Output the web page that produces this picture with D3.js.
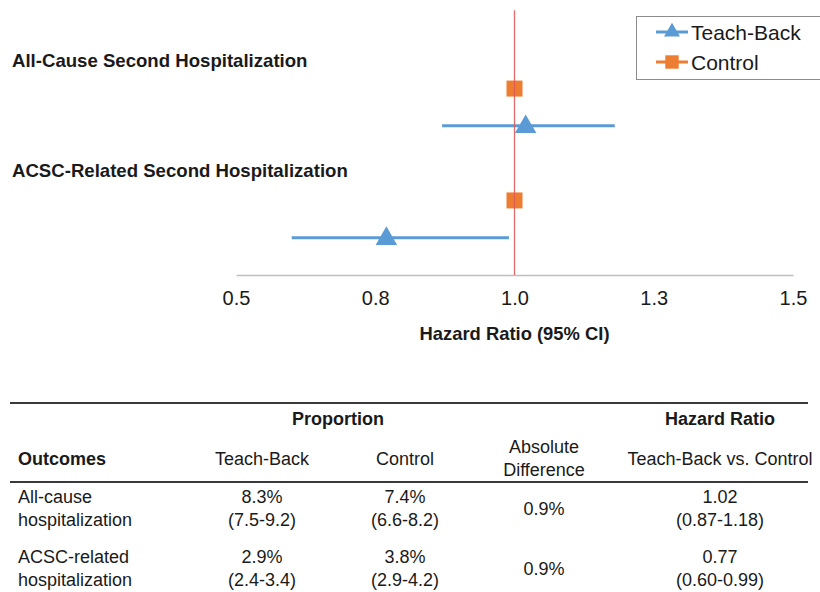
<!DOCTYPE html>
<html>
<head>
<meta charset="utf-8">
<script src="https://cdn.jsdelivr.net/npm/d3@7"></script>
<style>
  html, body { margin: 0; padding: 0; background: #fff; }
  svg { display: block; font-family: "Liberation Sans", Arial, sans-serif; }
</style>
</head>
<body>
<svg id="chart" width="820" height="592"></svg>
<script>
// Forest plot: hazard ratios with 95% CI
const outcomes = ["All-Cause Second Hospitalization", "ACSC-Related Second Hospitalization"];
const teachBackHR = [1.02, 0.77];
const teachBackLow = [0.87, 0.60];
const teachBackHigh = [1.18, 0.99];
const controlHR = [1.0, 1.0];
const xTicks = [0.5, 0.75, 1.0, 1.25, 1.5];

// Row positions (in plot rows) for each outcome
const labelRow = [5.77, 2.8];
const controlRow = [5, 2];
const teachBackRow = [4, 1];

// Summary table
const tableOutcomes = [["All-cause", "hospitalization"], ["ACSC-related", "hospitalization"]];
const tbProportion = [["8.3%", "(7.5-9.2)"], ["2.9%", "(2.4-3.4)"]];
const ctrlProportion = [["7.4%", "(6.6-8.2)"], ["3.8%", "(2.9-4.2)"]];
const absDifference = ["0.9%", "0.9%"];
const hrText = [["1.02", "(0.87-1.18)"], ["0.77", "(0.60-0.99)"]];

const blue = "#5b9bd5", orange = "#ed7d31", red = "#e05a5a", ink = "#1a1a1a";
const svg = d3.select("#chart");

const x = d3.scaleLinear().domain([0.5, 1.5]).range([236, 793]);
const y = d3.scaleLinear().domain([0, 7]).range([275, 14]);

// axis
const axis = svg.append("g")
  .attr("transform", `translate(0,${y(0)})`)
  .call(d3.axisBottom(x).tickValues(xTicks).tickFormat(d3.format(".1f")).tickSize(0).tickPadding(16));
axis.select(".domain").attr("stroke", "#bfbfbf").attr("stroke-width", 1.5);
axis.selectAll("text").attr("font-size", 20).attr("fill", ink)
  .attr("font-family", "Liberation Sans, Arial, sans-serif");

svg.append("text").attr("x", x(1.0)).attr("y", 339.5).attr("text-anchor", "middle")
  .attr("font-size", 18.4).attr("font-weight", "bold").attr("fill", ink)
  .text("Hazard Ratio (95% CI)");

// outcome labels
svg.selectAll("text.cat").data(outcomes).join("text").attr("class", "cat")
  .attr("x", 12).attr("y", (d, i) => y(labelRow[i])).attr("dy", "0.36em")
  .attr("font-size", 18.6).attr("font-weight", "bold").attr("fill", ink)
  .text(d => d);

// CI bars
svg.selectAll("line.ci").data(teachBackHR).join("line").attr("class", "ci")
  .attr("x1", (d, i) => x(teachBackLow[i])).attr("x2", (d, i) => x(teachBackHigh[i]))
  .attr("y1", (d, i) => y(teachBackRow[i])).attr("y2", (d, i) => y(teachBackRow[i]))
  .attr("stroke", blue).attr("stroke-width", 3);

const tri = d3.symbol().type(d3.symbolTriangle).size(200);
const sq = d3.symbol().type(d3.symbolSquare).size(256);

svg.selectAll("path.tb").data(teachBackHR).join("path").attr("class", "tb")
  .attr("d", tri)
  .attr("transform", (d, i) => `translate(${x(d)},${y(teachBackRow[i]) + 1})`)
  .attr("fill", blue);

svg.selectAll("path.ctrl").data(controlHR).join("path").attr("class", "ctrl")
  .attr("d", sq)
  .attr("transform", (d, i) => `translate(${x(d)},${y(controlRow[i])})`)
  .attr("fill", orange);

// reference line at HR = 1
svg.append("line").attr("x1", x(1.0)).attr("x2", x(1.0)).attr("y1", y(7.1)).attr("y2", y(0))
  .attr("stroke", red).attr("stroke-width", 1.3).attr("opacity", 0.9);

// legend
const lg = svg.append("g");
lg.append("rect").attr("x", 636.5).attr("y", 16.5).attr("width", 200).attr("height", 63)
  .attr("fill", "#fff").attr("stroke", "#8c8c8c").attr("stroke-width", 1);
const legendItems = [
  { name: "Teach-Back", color: blue, sym: d3.symbol().type(d3.symbolTriangle).size(110), yy: 32 },
  { name: "Control", color: orange, sym: d3.symbol().type(d3.symbolSquare).size(180), yy: 62 }
];
legendItems.forEach(it => {
  lg.append("line").attr("x1", 656).attr("x2", 688).attr("y1", it.yy).attr("y2", it.yy)
    .attr("stroke", it.color).attr("stroke-width", 3);
  lg.append("path").attr("d", it.sym).attr("transform", `translate(672,${it.yy})`).attr("fill", it.color);
  lg.append("text").attr("x", 691).attr("y", it.yy).attr("dy", "0.36em")
    .attr("font-size", 21).attr("fill", ink).text(it.name);
});

// table
const t = svg.append("g").attr("font-size", 18).attr("fill", ink);
t.append("line").attr("x1", 10).attr("x2", 808).attr("y1", 403).attr("y2", 403)
  .attr("stroke", "#3a3a3a").attr("stroke-width", 2);
t.append("line").attr("x1", 10).attr("x2", 808).attr("y1", 482).attr("y2", 482)
  .attr("stroke", "#3a3a3a").attr("stroke-width", 2);

const colTB = 262, colCtrl = 405, colDiff = 544, colHR = 720;
function txt(xp, yp, s, opts = {}) {
  t.append("text").attr("x", xp).attr("y", yp).attr("dy", "0.36em")
    .attr("text-anchor", opts.anchor || "middle")
    .attr("font-weight", opts.bold ? "bold" : "normal")
    .attr("fill", ink).text(s);
}
txt(338, 419, "Proportion", { bold: true });
txt(colHR, 419, "Hazard Ratio", { bold: true });
txt(18, 459, "Outcomes", { bold: true, anchor: "start" });
txt(colTB, 459, "Teach-Back");
txt(colCtrl, 459, "Control");
txt(colDiff, 447, "Absolute");
txt(colDiff, 470, "Difference");
txt(colHR, 459, "Teach-Back vs. Control");

const rowY = [[497, 520], [557, 580]];
tableOutcomes.forEach((o, i) => {
  const [y1, y2] = rowY[i];
  txt(18, y1, o[0], { anchor: "start" });
  txt(18, y2, o[1], { anchor: "start" });
  txt(colTB, y1, tbProportion[i][0]);
  txt(colTB, y2, tbProportion[i][1]);
  txt(colCtrl, y1, ctrlProportion[i][0]);
  txt(colCtrl, y2, ctrlProportion[i][1]);
  txt(colDiff, (y1 + y2) / 2, absDifference[i]);
  txt(colHR, y1, hrText[i][0]);
  txt(colHR, y2, hrText[i][1]);
});
</script>
</body>
</html>
